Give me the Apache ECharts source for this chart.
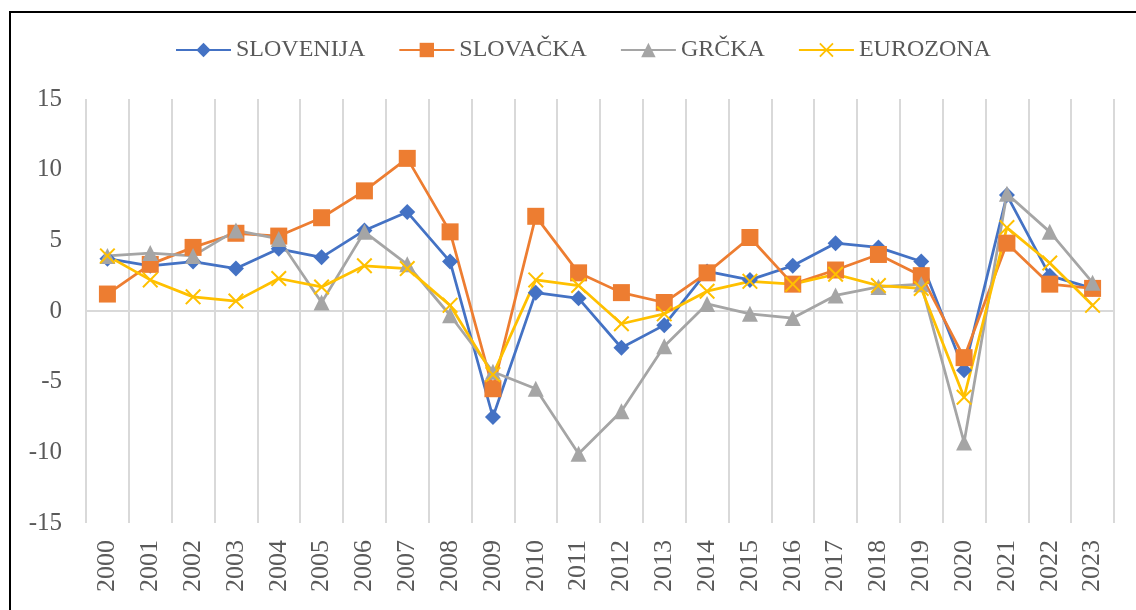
<!DOCTYPE html>
<html>
<head>
<meta charset="utf-8">
<script src="https://cdn.jsdelivr.net/npm/echarts@6/dist/echarts.min.js"></script>
<style>html,body{margin:0;padding:0;background:#fff}#c{width:1136px;height:610px}</style>
</head>
<body>
<div id="c"></div>
<script>
const years = ['2000','2001','2002','2003','2004','2005','2006','2007','2008','2009','2010','2011','2012','2013','2014','2015','2016','2017','2018','2019','2020','2021','2022','2023'];
const slovenija = [3.7, 3.2, 3.5, 3.0, 4.4, 3.8, 5.7, 7.0, 3.5, -7.5, 1.3, 0.9, -2.6, -1.0, 2.8, 2.2, 3.2, 4.8, 4.5, 3.5, -4.2, 8.2, 2.5, 1.6];
const slovacka = [1.2, 3.3, 4.5, 5.5, 5.3, 6.6, 8.5, 10.8, 5.6, -5.5, 6.7, 2.7, 1.3, 0.6, 2.7, 5.2, 1.9, 2.9, 4.0, 2.5, -3.3, 4.8, 1.9, 1.6];
const grcka = [3.9, 4.1, 3.9, 5.7, 5.1, 0.6, 5.6, 3.3, -0.3, -4.3, -5.5, -10.1, -7.1, -2.5, 0.5, -0.2, -0.5, 1.1, 1.7, 1.9, -9.3, 8.3, 5.6, 2.0];
const eurozona = [3.9, 2.2, 1.0, 0.7, 2.3, 1.7, 3.2, 3.0, 0.4, -4.5, 2.2, 1.8, -0.9, -0.2, 1.4, 2.1, 1.9, 2.6, 1.8, 1.6, -6.1, 5.9, 3.4, 0.4];
const yTicks = {min: -15, max: 15, interval: 5};

const FONT = '"Liberation Serif", "Times New Roman", serif';
const TXT = '#595959';
const xPath = 'path://M9,0 L50,41 L91,0 L100,9 L59,50 L100,91 L91,100 L50,59 L9,100 L0,91 L41,50 L0,9 Z';

function mk(name, data, color, symbol, size) {
  return {
    name, type: 'line', data,
    symbol, symbolSize: size,
    lineStyle: {color, width: 2.75},
    itemStyle: {color},
    animation: false,
    z: 3
  };
}

const series = [
  mk('SLOVENIJA', slovenija, '#4472C4', 'diamond', 16),
  mk('SLOVAČKA', slovacka, '#ED7D31', 'rect', 17),
  mk('GRČKA', grcka, '#A5A5A5', 'triangle', 16),
  mk('EUROZONA', eurozona, '#FFC000', xPath, 16)
];
series[0].markLine = {
  silent: true, symbol: 'none', label: {show: false},
  lineStyle: {color: '#D9D9D9', width: 2, type: 'solid'},
  data: [{yAxis: 0}], animation: false, z: 1
};

const chart = echarts.init(document.getElementById('c'), null, {renderer: 'canvas'});
chart.setOption({
  backgroundColor: '#fff',
  animation: false,
  legend: {
    left: 170, top: 33,
    itemWidth: 55, itemHeight: 18, itemGap: 33,
    textStyle: {fontFamily: FONT, fontSize: 24, color: TXT},
    data: ['SLOVENIJA','SLOVAČKA','GRČKA','EUROZONA']
  },
  grid: {left: 86, right: 22, top: 99, bottom: 87, containLabel: false},
  xAxis: {
    type: 'category', data: years, boundaryGap: true,
    axisLine: {show: false, onZero: false},
    axisTick: {show: false},
    splitLine: {show: true, interval: 0, lineStyle: {color: '#D9D9D9', width: 2}},
    axisLabel: {rotate: 90, interval: 0, margin: 17, fontFamily: FONT, fontSize: 26, color: TXT}
  },
  yAxis: {
    type: 'value', min: yTicks.min, max: yTicks.max, interval: yTicks.interval,
    axisLine: {show: false}, axisTick: {show: false},
    splitLine: {show: false},
    axisLabel: {margin: 24, fontFamily: FONT, fontSize: 25, color: TXT}
  },
  graphic: [{
    type: 'rect', silent: true,
    shape: {x: 10, y: 12, width: 1300, height: 800},
    style: {fill: 'none', stroke: '#000', lineWidth: 2}, z: 100
  }],
  series
});
</script>
</body>
</html>
